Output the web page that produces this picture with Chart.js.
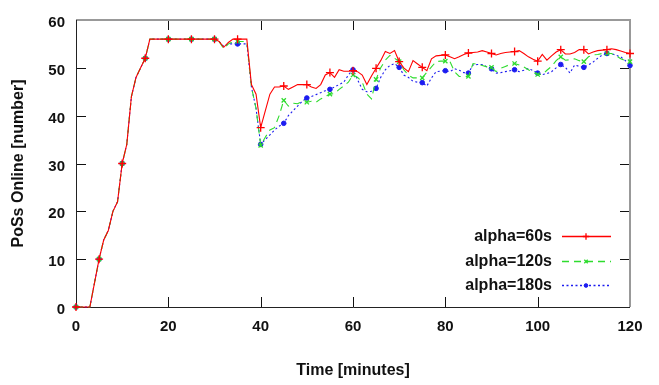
<!DOCTYPE html>
<html>
<head>
<meta charset="utf-8">
<script src="https://cdn.jsdelivr.net/npm/chart.js@4/dist/chart.umd.min.js"></script>
<style>
  html, body { margin: 0; padding: 0; background: #fff; }
  #wrap { width: 659px; height: 385px; position: relative; }
</style>
</head>
<body>
<div id="wrap"><canvas id="chart"></canvas></div>
<script>
// 経過時間（分）。1分刻み。
const minutes = [
  0, 1, 2, 3, 4, 5, 6, 7, 8, 9, 10, 11, 12, 13, 14, 15, 16, 17, 18, 19,
  20, 21, 22, 23, 24, 25, 26, 27, 28, 29, 30, 31, 32, 33, 34, 35, 36, 37, 38, 39,
  40, 41, 42, 43, 44, 45, 46, 47, 48, 49, 50, 51, 52, 53, 54, 55, 56, 57, 58, 59,
  60, 61, 62, 63, 64, 65, 66, 67, 68, 69, 70, 71, 72, 73, 74, 75, 76, 77, 78, 79,
  80, 81, 82, 83, 84, 85, 86, 87, 88, 89, 90, 91, 92, 93, 94, 95, 96, 97, 98, 99,
  100, 101, 102, 103, 104, 105, 106, 107, 108, 109, 110, 111, 112, 113, 114, 115, 116, 117, 118, 119,
  120,
];

const seriesLabels = ["alpha=60s", "alpha=120s", "alpha=180s"];

const alpha60 = [
  0, 0, 0, 0, 5, 10, 14, 16, 20, 22, 30, 34, 44, 48, 50, 52, 56, 56, 56, 56,
  56, 56, 56, 56, 56, 56, 56, 56, 56, 56, 56, 55.5, 54.3, 55.3, 56, 56, 56, 56, 46.5, 44.5,
  37.5, 41, 44.5, 46, 46, 46.2, 45.5, 46, 46.5, 46.5, 46.5, 46, 45.7, 46.5, 48.5, 49, 48, 49.6, 49.3, 49.3,
  49.4, 49.2, 48.5, 46.5, 48.3, 49.9, 51.5, 53.4, 53, 53.6, 51.3, 50, 49.2, 51.5, 50.8, 50.1, 49.4, 51.9, 52.5, 52.6,
  52.7, 52.3, 51.9, 52.3, 52.8, 53.1, 53.2, 53.3, 53.6, 53.3, 53, 52.7, 53, 53.2, 53.3, 53.4, 53.6, 53, 52.3, 51.8,
  51.4, 52.8, 51.6, 52.5, 53.3, 53.8, 52.9, 52.9, 53.2, 53.8, 53.8, 52.9, 53.3, 53.6, 53.7, 53.8, 54, 53.8, 53.5, 53.2,
  53,
];

const alpha120 = [
  0, 0, 0, 0, 5, 10, 14, 16, 20, 22, 30, 34, 44, 48, 50, 52, 56, 56, 56, 56,
  56, 56, 56, 56, 56, 56, 56, 56, 56, 56, 56, 55.5, 54, 55, 55.5, 55.5, 55.5, 55.5, 46, 41.5,
  33.8, 35.5, 37, 37.5, 40, 43.2, 42, 42.6, 42.5, 43, 42.8, 43, 42.8, 43.5, 44, 44.5, 44.6, 45.5, 46.2, 47,
  48.5, 48, 47, 44.5, 43.5, 47.6, 50, 51.6, 52.6, 52, 51.3, 49.6, 48.5, 47.9, 47.9, 47.9, 49.1, 50.2, 51.3, 51.4,
  51.4, 51.3, 49.2, 48.2, 48.2, 48.2, 50.9, 50.7, 50.5, 50.2, 50.1, 49.2, 49.9, 50.3, 50.7, 50.9, 50.6, 50.2, 49.6, 49,
  48.6, 48.6, 49.5, 50.3, 51.5, 52.3, 51.6, 51.7, 51.9, 51.5, 51.3, 52.3, 52.7, 52.8, 53, 53, 53, 52.5, 51.9, 51.5,
  51.3,
];

const alpha180 = [
  0, 0, 0, 0, 5, 10, 14, 16, 20, 22, 30, 34, 44, 48, 50, 52, 56, 56, 56, 56,
  56, 56, 56, 56, 56, 56, 56, 56, 56, 56, 56, 55.5, 54.5, 55, 55, 55, 55, 55, 46, 41.5,
  34, 35, 36, 37, 37.8, 38.4, 40, 41, 42, 43, 43.7, 44, 44.4, 44.8, 45.2, 45.5, 46, 46.5, 47, 48.5,
  49.6, 47.5, 45.5, 45, 45.1, 45.7, 48, 49.6, 50.5, 50.9, 50.1, 48.5, 48, 47.2, 47, 46.9, 46.2, 47.9, 49.2, 49.3,
  49.4, 49.2, 49.8, 49.5, 49, 48.9, 50.6, 50.7, 50.7, 50.2, 49.8, 48.9, 49, 49.2, 49.4, 49.6, 49.2, 49.5, 49.9, 49.4,
  48.9, 48.6, 48.8, 49.2, 50, 50.7, 50.1, 48.9, 50.6, 50.3, 50.1, 50.6, 51.2, 52, 52.7, 53, 53, 52.6, 52.3, 51.5,
  50.5,
];

const xTicks = [0, 20, 40, 60, 80, 100, 120];
const yTicks = [0, 10, 20, 30, 40, 50, 60];

(() => {
  const FONT = "'Liberation Sans', Arial, Helvetica, sans-serif";
  const TICK_LEN = 10;

  // gnuplot 風に5分ごとにだけマーカーを置く
  const markerEvery5 = (r) => (ctx) => (minutes[ctx.dataIndex] % 5 === 0 ? r : 0);

  function makeDataset(label, values, style) {
    return {
      label,
      data: values.map((v, i) => ({ x: minutes[i], y: v })),
      borderColor: style.color,
      backgroundColor: style.color,
      borderWidth: 1.1,
      borderDash: style.dash,
      pointStyle: style.point,
      pointRadius: markerEvery5(style.radius),
      pointHoverRadius: 0,
      pointBorderWidth: style.pointBorder,
      pointBorderColor: style.color,
      pointBackgroundColor: style.color,
      tension: 0,
      clip: 6,
    };
  }

  const styles = [
    { color: "#ff0000", dash: [], point: "cross", radius: 4, pointBorder: 1.3 },
    { color: "#2edc2e", dash: [7, 5], point: "crossRot", radius: 3, pointBorder: 1.3 },
    { color: "#1c1cf0", dash: [2, 2.5], point: "circle", radius: 2.3, pointBorder: 1 },
  ];

  const datasets = [alpha60, alpha120, alpha180].map((vals, i) =>
    makeDataset(seriesLabels[i], vals, styles[i])
  );

  // 内向きの目盛りと枠線（上・右は灰色）
  const FrameTicks = {
    id: "frameTicks",
    beforeDatasetsDraw(chart) {
      const { ctx, chartArea: a, scales } = chart;
      ctx.save();
      ctx.strokeStyle = "#111";
      ctx.lineWidth = 1;
      ctx.beginPath();
      xTicks.forEach((t) => {
        const x = Math.round(scales.x.getPixelForValue(t)) + 0.5;
        ctx.moveTo(x, a.bottom);
        ctx.lineTo(x, a.bottom - TICK_LEN);
        ctx.moveTo(x, a.top);
        ctx.lineTo(x, a.top + TICK_LEN);
      });
      yTicks.forEach((t) => {
        const y = Math.round(scales.y.getPixelForValue(t)) + 0.5;
        ctx.moveTo(a.left, y);
        ctx.lineTo(a.left + TICK_LEN, y);
        ctx.moveTo(a.right, y);
        ctx.lineTo(a.right - TICK_LEN, y);
      });
      ctx.stroke();

      ctx.strokeStyle = "#999";
      ctx.lineWidth = 2;
      ctx.beginPath();
      ctx.moveTo(a.left, a.top);
      ctx.lineTo(a.right, a.top);
      ctx.lineTo(a.right, a.bottom);
      ctx.stroke();

      ctx.strokeStyle = "#222";
      ctx.lineWidth = 1;
      ctx.beginPath();
      ctx.moveTo(a.right, a.bottom + 0.5);
      ctx.lineTo(a.left + 0.5, a.bottom + 0.5);
      ctx.lineTo(a.left + 0.5, a.top);
      ctx.stroke();
      ctx.restore();
    },
  };

  // 凡例：右寄せの文字＋線見本（グラフ内右下）
  const InsetLegend = {
    id: "insetLegend",
    afterDraw(chart) {
      const { ctx, chartArea: a } = chart;
      const rows = [a.bottom - 71, a.bottom - 46, a.bottom - 22];
      ctx.save();
      ctx.font = `bold 16px ${FONT}`;
      ctx.textAlign = "right";
      ctx.textBaseline = "middle";
      chart.data.datasets.forEach((ds, i) => {
        const y = rows[i];
        ctx.fillStyle = "#111";
        ctx.fillText(ds.label, a.right - 78, y + 1);
        ctx.strokeStyle = ds.borderColor;
        ctx.lineWidth = 1.3;
        ctx.setLineDash(ds.borderDash || []);
        ctx.beginPath();
        ctx.moveTo(a.right - 68, y + 0.5);
        ctx.lineTo(a.right - 19, y + 0.5);
        ctx.stroke();
        ctx.setLineDash([]);
        ctx.fillStyle = ds.borderColor;
        ctx.lineWidth = ds.pointBorderWidth;
        Chart.helpers.drawPoint(
          ctx,
          { pointStyle: ds.pointStyle, radius: styles[i].radius * 0.8, rotation: 0, borderWidth: ds.pointBorderWidth },
          a.right - 44,
          y + 0.5
        );
      });
      ctx.restore();
    },
  };

  const tickFont = { family: FONT, size: 15, weight: "bold" };
  const titleFont = { family: FONT, size: 16, weight: "bold" };

  new Chart(document.getElementById("chart"), {
    type: "line",
    data: { datasets },
    plugins: [FrameTicks, InsetLegend],
    options: {
      responsive: true,
      maintainAspectRatio: false,
      animation: false,
      events: [],
      layout: { padding: { top: 10, right: 29, left: 0, bottom: 0 } },
      plugins: { legend: { display: false }, tooltip: { enabled: false } },
      scales: {
        x: {
          type: "linear",
          min: 0,
          max: 120,
          afterFit: (s) => { s.height = 78; },
          afterBuildTicks: (s) => { s.ticks = xTicks.map((v) => ({ value: v })); },
          grid: { display: false, drawTicks: false },
          border: { display: false },
          ticks: { color: "#111", font: tickFont, padding: 11, maxRotation: 0 },
          title: { display: true, text: "Time [minutes]", color: "#111", font: titleFont, padding: { top: 0, bottom: 5 } },
        },
        y: {
          min: 0,
          max: 60,
          afterFit: (s) => { s.width = 76; },
          afterBuildTicks: (s) => { s.ticks = yTicks.map((v) => ({ value: v })); },
          grid: { display: false, drawTicks: false },
          border: { display: false },
          ticks: { color: "#111", font: tickFont, padding: 11, labelOffset: 3 },
          title: { display: true, text: "PoSs Online [number]", color: "#111", font: titleFont, padding: { top: 9, bottom: 0 } },
        },
      },
    },
  });
})();
</script>
</body>
</html>
